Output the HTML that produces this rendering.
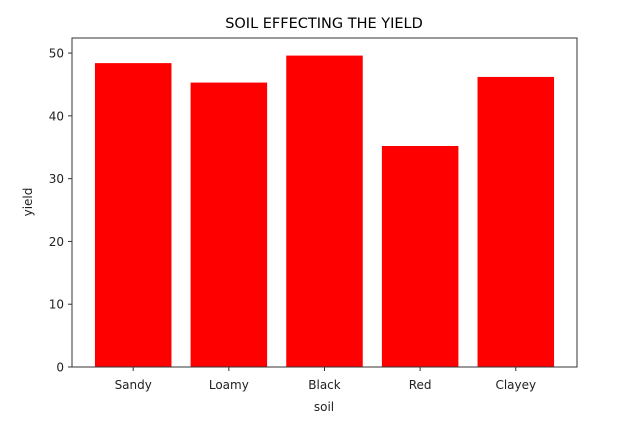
<!DOCTYPE html>
<html><head><meta charset="utf-8"><style>
body{margin:0;background:#fff;font-family:"Liberation Sans","DejaVu Sans",sans-serif;}
</style></head><body>
<svg width="619" height="438" xmlns="http://www.w3.org/2000/svg" style="font-family:'DejaVu Sans','Liberation Sans',sans-serif">
<g id="bars"></g>
<g id="axes"></g>
<text x="324" y="28" text-anchor="middle" font-size="14.5" fill="#000">SOIL EFFECTING THE YIELD</text>
<text x="324" y="411" text-anchor="middle" font-size="12" fill="#222">soil</text>
<text x="32" y="202" text-anchor="middle" font-size="12" fill="#222" transform="rotate(-90 32 202)">yield</text>
</svg>
<script>
const categories=["Sandy","Loamy","Black","Red","Clayey"];
const values=[48.4,45.3,49.6,35.2,46.2];
const yTicks=[0,10,20,30,40,50];
const L=72,R=577,T=38,B=367;
const xMin=-0.64,xMax=4.64,yMin=0,yMax=52.4;
function xs(v){return L+(v-xMin)/(xMax-xMin)*(R-L);}
function ys(v){return B-(v-yMin)/(yMax-yMin)*(B-T);}
const NS="http://www.w3.org/2000/svg";
const bars=document.getElementById('bars'),axes=document.getElementById('axes');
function mk(t,a,p){const e=document.createElementNS(NS,t);for(const k in a)e.setAttribute(k,a[k]);p.appendChild(e);return e;}
values.forEach((v,i)=>{
 const r=mk('rect',{x:xs(i-0.4),y:ys(v),width:xs(i+0.4)-xs(i-0.4),height:ys(0)-ys(v),fill:'#ff0000'},bars);
 
 
 mk('line',{x1:xs(i),x2:xs(i),y1:B,y2:B+4,stroke:'#333'},axes);
 const t=mk('text',{x:xs(i),y:B+22,'text-anchor':'middle','font-size':12,fill:'#222'},axes);
 t.textContent=categories[i];
 
 
});
yTicks.forEach(v=>{
 mk('line',{x1:L-4,x2:L,y1:ys(v),y2:ys(v),stroke:'#333'},axes);
 const t=mk('text',{x:L-8,y:ys(v)+4.5,'text-anchor':'end','font-size':12,fill:'#222'},axes);
 t.textContent=v;
 
 
});
const f=mk('rect',{x:L,y:T,width:R-L,height:B-T,fill:'none',stroke:'#333','stroke-width':1},axes);


</script>
</body></html>
